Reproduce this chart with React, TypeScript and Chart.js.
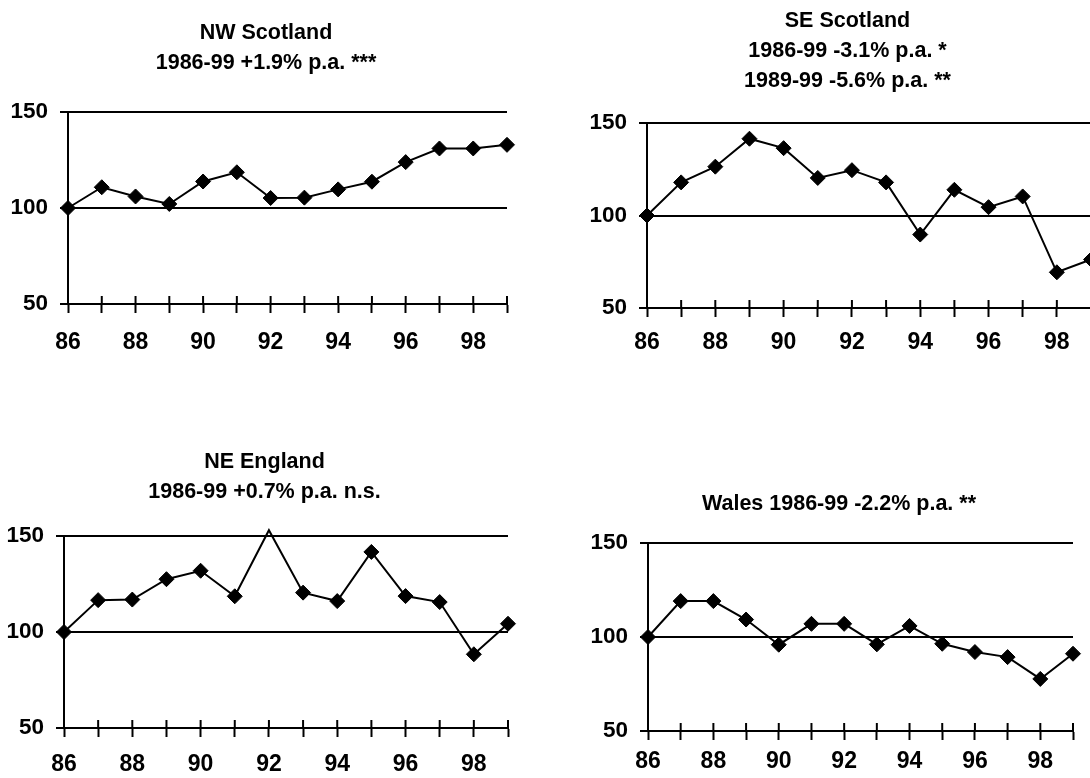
import React, { useEffect, useRef } from "react";
import { Chart, registerables } from "chart.js";

Chart.register(...registerables);

// ---- data ----
const years = ["86", "87", "88", "89", "90", "91", "92", "93", "94", "95", "96", "97", "98", "99"];
const labelledYears = ["86", "88", "90", "92", "94", "96", "98"];
const yTicks = [50, 100, 150];

const nwScotland = [100, 110.8, 106, 102.1, 113.8, 118.6, 105.2, 105.4, 109.7, 113.7, 123.9, 131, 131, 132.9];
const seScotland = [100, 117.9, 126.4, 141.5, 136.4, 120.3, 124.5, 117.9, 89.7, 113.9, 104.5, 110.3, 69.3, 76.2];
const neEngland = [100, 116.6, 116.9, 127.5, 131.9, 118.6, 153, 120.5, 116.1, 141.7, 118.7, 115.6, 88.4, 104.3];
const wales = [100, 119.1, 119.1, 109.3, 95.9, 107, 107, 96.1, 105.9, 96.4, 92, 89.3, 77.7, 91.1];

const titleNW = ["NW Scotland", "1986-99 +1.9% p.a. ***"];
const titleSE = ["SE Scotland", "1986-99 -3.1% p.a. *", "1989-99 -5.6% p.a. **"];
const titleNE = ["NE England", "1986-99 +0.7% p.a. n.s."];
const titleWales = ["Wales 1986-99 -2.2% p.a. **"];

// ---- layout ----
type Panel = {
  title: string[];
  values: number[];
  left: number; top: number; width: number; height: number;
  padTop: number; padBottom: number; xPad: number;
};

const RIGHT_PAD = 12;

const panels: Panel[] = [
  { title: titleNW, values: nwScotland, left: 8, top: 0, width: 511, height: 354, padTop: 18.5, padBottom: 33.5, xPad: 16 },
  { title: titleSE, values: seScotland, left: 587, top: 0, width: 516, height: 358, padTop: 6, padBottom: 27, xPad: 12 },
  { title: titleNE, values: neEngland, left: 4, top: 400, width: 516, height: 378, padTop: 47, padBottom: 29, xPad: 14 },
  { title: titleWales, values: wales, left: 588, top: 400, width: 497, height: 381, padTop: 89, padBottom: 24, xPad: 8 },
];

const FONT = "'Liberation Sans', Arial, Helvetica, sans-serif";

// tick marks above the x axis line (the library draws the part below)
const tickUp = {
  id: "tickUp",
  afterDraw(chart: any) {
    const x = chart.scales.x;
    const ctx = chart.ctx;
    ctx.save();
    ctx.strokeStyle = "#000";
    ctx.lineWidth = 2;
    x.ticks.forEach((_t: any, i: number) => {
      const px = x.getPixelForTick(i);
      ctx.beginPath();
      ctx.moveTo(px, x.top - 8);
      ctx.lineTo(px, x.top);
      ctx.stroke();
    });
    ctx.restore();
  },
};

// centre the title over the plot plus part of the value axis
const titleShift = {
  id: "titleShift",
  afterLayout(chart: any) {
    const tb = chart.titleBlock;
    if (tb) {
      tb.left = chart.chartArea.left - 43;
      tb.right = chart.chartArea.right;
    }
  },
};

function PanelChart({ p }: { p: Panel }) {
  const ref = useRef<HTMLCanvasElement | null>(null);
  useEffect(() => {
    if (!ref.current) return;
    const yMax = yTicks[yTicks.length - 1];
    const chart = new Chart(ref.current, {
      type: "line",
      data: {
        labels: years,
        datasets: [
          {
            data: p.values,
            borderColor: "#000",
            borderWidth: 2,
            backgroundColor: "#000",
            pointStyle: "rectRot",
            pointRadius: (c: any) => (c.raw > yMax ? 0 : 7.5),
            pointBorderColor: "#000",
            pointBackgroundColor: "#000",
            pointBorderWidth: 1,
            tension: 0,
            clip: false as any,
          },
        ],
      },
      options: {
        responsive: false,
        animation: false,
        layout: { autoPadding: false, padding: { left: 0, right: RIGHT_PAD, top: 0, bottom: 0 } },
        plugins: {
          legend: { display: false },
          tooltip: { enabled: false },
          title: {
            display: true,
            text: p.title,
            color: "#000",
            font: { family: FONT, size: 21.5, weight: "bold", lineHeight: "30px" as any },
            padding: { top: p.padTop, bottom: p.padBottom },
          },
        },
        scales: {
          x: {
            type: "category",
            offset: false,
            grid: {
              drawOnChartArea: false,
              drawTicks: true,
              tickLength: 9,
              tickWidth: 2,
              tickColor: "#000",
              color: "#000",
            },
            border: { display: true, color: "#000", width: 2 },
            ticks: {
              autoSkip: false,
              maxRotation: 0,
              padding: p.xPad,
              color: "#000",
              font: { family: FONT, size: 23, weight: "bold" },
              callback: function (this: any, _v: any, i: number) {
                const lab = years[i];
                return labelledYears.includes(lab) ? lab : "";
              },
            },
            afterFit: (s: any) => {
              s.height = 50;
              s.paddingLeft = 0;
              s.paddingRight = 0;
            },
          },
          y: {
            min: yTicks[0],
            max: yMax,
            afterBuildTicks: (s: any) => { s.ticks = yTicks.map((v) => ({ value: v })); },
            grid: {
              color: "#000",
              lineWidth: 2,
              drawTicks: true,
              tickLength: 8,
              tickColor: "#000",
              tickWidth: 2,
            },
            border: { display: true, color: "#000", width: 2 },
            ticks: {
              padding: 12,
              color: "#000",
              font: { family: FONT, size: 22.5, weight: "bold" },
            },
            afterFit: (s: any) => { s.width = 60; },
          },
        },
      },
      plugins: [tickUp, titleShift],
    });
    return () => chart.destroy();
  }, [p]);
  return (
    <canvas
      ref={ref}
      width={p.width}
      height={p.height}
      style={{ position: "absolute", left: p.left, top: p.top, width: p.width, height: p.height, display: "block" }}
    />
  );
}

export default function App() {
  return (
    <div style={{ position: "absolute", left: 0, top: 0, width: 1090, height: 778, overflow: "hidden", background: "#fff" }}>
      {panels.map((p, i) => (
        <PanelChart key={i} p={p} />
      ))}
    </div>
  );
}
